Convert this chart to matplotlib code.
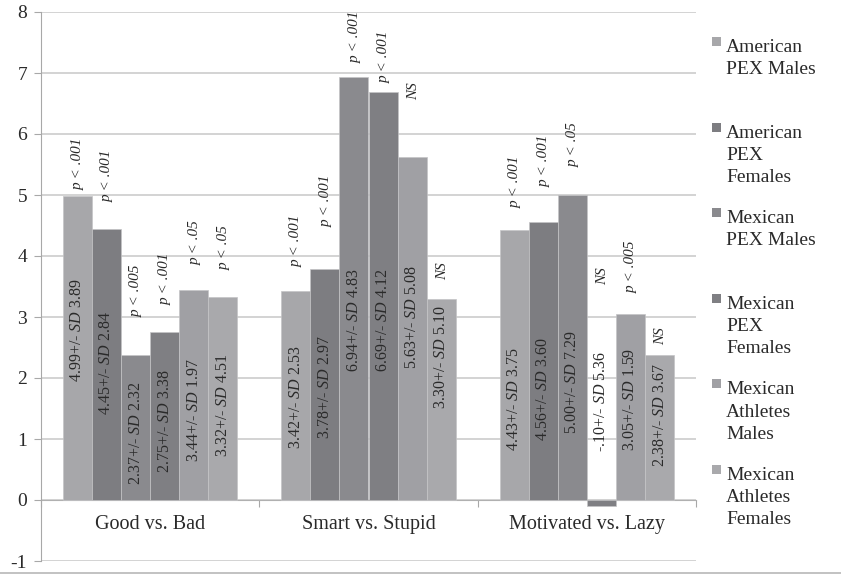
import numpy as np
import matplotlib.pyplot as plt
from matplotlib.patches import Rectangle
from matplotlib.lines import Line2D

plt.rcParams['font.family'] = ['Liberation Serif', 'DejaVu Serif']
plt.rcParams['mathtext.fontset'] = 'custom'
plt.rcParams['mathtext.rm'] = 'Liberation Serif'
plt.rcParams['mathtext.it'] = 'Liberation Serif:italic'
plt.rcParams['axes.unicode_minus'] = False

# data
categories = ['Good vs. Bad', 'Smart vs. Stupid', 'Motivated vs. Lazy']
groups = ['American\nPEX Males', 'American\nPEX\nFemales', 'Mexican\nPEX Males',
          'Mexican\nPEX\nFemales', 'Mexican\nAthletes\nMales', 'Mexican\nAthletes\nFemales']
means = [[4.99, 4.45, 2.37, 2.75, 3.44, 3.32],
         [3.42, 3.78, 6.94, 6.69, 5.63, 3.30],
         [4.43, 4.56, 5.00, -0.10, 3.05, 2.38]]
sds = [[3.89, 2.84, 2.32, 3.38, 1.97, 4.51],
       [2.53, 2.97, 4.83, 4.12, 5.08, 5.10],
       [3.75, 3.60, 7.29, 5.36, 1.59, 3.67]]
pvals = [['p < .001', 'p < .001', 'p < .005', 'p < .001', 'p < .05', 'p < .05'],
         ['p < .001', 'p < .001', 'p < .001', 'p < .001', 'NS', 'NS'],
         ['p < .001', 'p < .001', 'p < .05', 'NS', 'p < .005', 'NS']]

# where the rotated labels sit (data units)
sd_label_mid = [[2.79, 2.25, 1.10, 1.30, 1.48, 1.56],
                [1.68, 1.85, 2.95, 2.95, 3.00, 2.34],
                [1.66, 1.82, 1.93, 1.61, 1.64, 1.40]]
p_label_base = [[5.08, 4.89, 3.00, 3.20, 3.85, 3.77],
                [3.82, 4.48, 7.16, 6.84, 6.56, 3.61],
                [4.79, 5.13, 5.46, 3.52, 3.39, 2.54]]

colors = ['#a7a7aa', '#7d7d81', '#8a8a8e', '#7f7f83', '#a0a0a4', '#a9a9ac']

W, H = 841, 575
fig = plt.figure(figsize=(W / 100, H / 100), dpi=100)
ax = fig.add_axes([41 / W, 1 - 561 / H, (696 - 41) / W, (561 - 12) / H])

def px(x, y):
    return x / W, 1 - y / H

def fmt(v):
    s = f'{v:.2f}'
    return s.replace('0.', '.', 1) if abs(v) < 1 else s

n = len(groups)
w = 0.8 / n
x = np.arange(len(categories))
for j in range(n):
    vals = [means[i][j] for i in range(len(categories))]
    xs = x + (j - (n - 1) / 2) * w
    ax.bar(xs, vals, width=w, color=colors[j], edgecolor='#c4c4c6', linewidth=0.5, zorder=3)
    for i in range(len(categories)):
        ax.text(xs[i], sd_label_mid[i][j],
                fmt(means[i][j]) + r'+/- $\mathit{SD}$ ' + fmt(sds[i][j]),
                rotation=90, ha='center', va='center', fontsize=11.5, color='#2a2a2a', zorder=4)
        ax.text(xs[i] + 0.005, p_label_base[i][j], pvals[i][j], rotation=90,
                ha='center', va='bottom', fontsize=11, style='italic', color='#2a2a2a', zorder=4)

ax.set_xlim(-0.5, 2.5)
ax.set_ylim(-1, 8)
ax.set_yticks(range(-1, 9))
ax.yaxis.grid(True, color='#c8c8c8', linewidth=1.1, zorder=0)
ax.set_axisbelow(True)

for s in ['top', 'right']:
    ax.spines[s].set_visible(False)
ax.spines['left'].set_color('#a8a8a8')
ax.spines['bottom'].set_position(('data', 0))
ax.spines['bottom'].set_color('#b0b0b0')
ax.spines['bottom'].set_zorder(2)

ax.set_xticks([-0.5, 0.5, 1.5, 2.5])
ax.set_xticklabels([])
ax.set_xticks(x, minor=True)
ax.set_xticklabels(categories, minor=True)
ax.tick_params(axis='x', which='major', length=5, color='#a8a8a8', direction='out')
ax.tick_params(axis='x', which='minor', length=0, pad=10.5, labelsize=14.5, labelcolor='#2a2a2a')
ax.tick_params(axis='y', length=5, color='#a8a8a8', pad=5, labelsize=14, labelcolor='#2a2a2a')

# legend, one slot per group
for j, g in enumerate(groups):
    yc = 47 + j * 85.6
    fig.add_artist(Rectangle(px(712, yc - 1), 9 / W, 9 / H, transform=fig.transFigure,
                             facecolor=colors[j], edgecolor='none'))
    fig.text(*px(726, yc - 8), g, ha='left', va='top', fontsize=14,
             linespacing=1.4, color='#2a2a2a')

fig.add_artist(Line2D([0, 1], [1 - 573 / H] * 2, transform=fig.transFigure,
                      color='#b8b8b8', linewidth=1.2))

fig.savefig('out.png', dpi=100)
